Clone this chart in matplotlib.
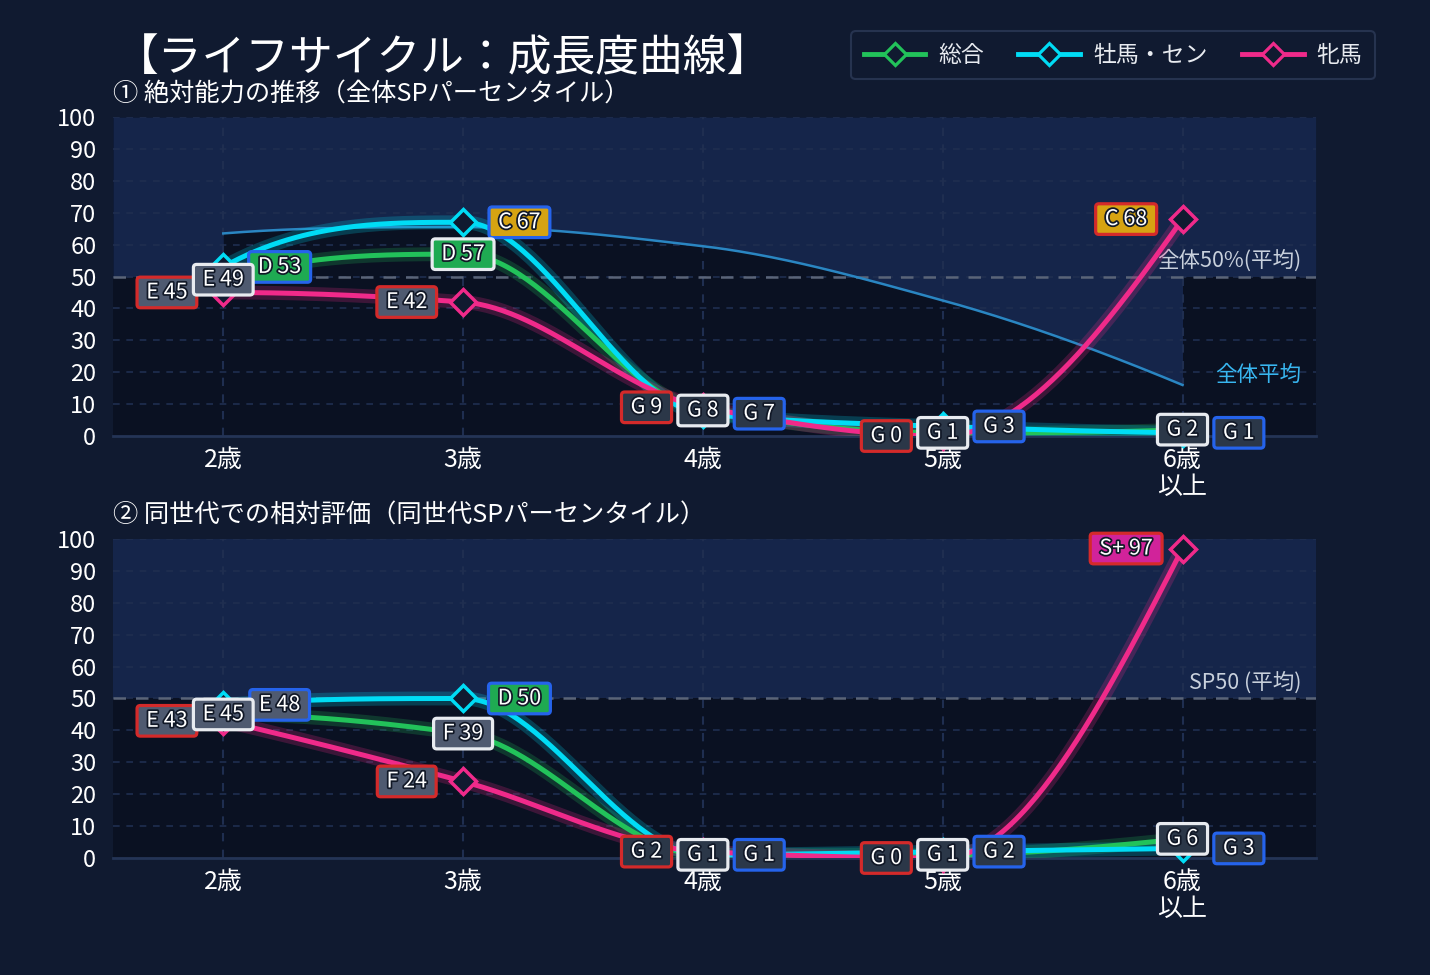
import numpy as np
import matplotlib
matplotlib.use("Agg")
import matplotlib.pyplot as plt
import matplotlib.patheffects as pe
from matplotlib.lines import Line2D

plt.rcParams['font.family'] = ['Noto Sans CJK JP', 'DejaVu Sans']

ages = ['2歳', '3歳', '4歳', '5歳', '6歳\n以上']
series_names = ['総合', '牡馬・セン', '牝馬']

# ① 絶対能力 (全体SPパーセンタイル)
abs_total = [49, 57, 8, 1, 2]
abs_male = [53, 67, 7, 3, 1]
abs_female = [45, 42, 9, 0, 68]
abs_overall_avg = [63.5, 65.5, 59.5, 42.5, 16]

# ② 同世代での相対評価
rel_total = [45, 39, 1, 1, 6]
rel_male = [48, 50, 1, 2, 3]
rel_female = [43, 24, 2, 0, 97]

BG = '#101a30'
LIGHT = '#15254a'
DARK = '#0a1122'
GRID = '#1f2e50'
GREEN = '#22c25a'
CYAN = '#00dcf5'
PINK = '#f02a8a'
series_colors = [GREEN, CYAN, PINK]
box_edges = ['#e8ebf0', '#2563eb', '#d42a2a']
label_dx = [0.0, 0.235, -0.235]

grade_cuts = [95, 90, 80, 70, 60, 50, 40, 20]
grade_names = ['S+', 'S', 'A', 'B', 'C', 'D', 'E', 'F']
grade_fill = {'S+': '#d1239a', 'S': '#d1239a', 'A': '#e0562a', 'B': '#e08a1e',
              'C': '#d6a312', 'D': '#1faa52', 'E': '#4f5a70', 'F': '#4f5a70', 'G': '#2b3748'}


def grade(v):
    for cut, name in zip(grade_cuts, grade_names):
        if v >= cut:
            return name
    return 'G'


def end_slope(d0, d1):
    m = (3 * d0 - d1) / 2
    if np.sign(m) != np.sign(d0):
        return 0.0
    if np.sign(d0) != np.sign(d1) and abs(m) > abs(3 * d0):
        return 3 * d0
    return m


def smooth(y, n=60):
    # monotone cubic (PCHIP) through the points
    y = np.asarray(y, dtype=float)
    d = np.diff(y)
    m = np.zeros_like(y)
    for k in range(1, len(y) - 1):
        if d[k - 1] * d[k] > 0:
            m[k] = 2 / (1 / d[k - 1] + 1 / d[k])
    m[0] = end_slope(d[0], d[1])
    m[-1] = end_slope(d[-1], d[-2])
    xs, ys = [], []
    for k in range(len(y) - 1):
        t = np.linspace(0, 1, n, endpoint=(k == len(y) - 2))
        h00 = 2 * t**3 - 3 * t**2 + 1
        h10 = t**3 - 2 * t**2 + t
        h01 = -2 * t**3 + 3 * t**2
        h11 = t**3 - t**2
        xs.append(k + t)
        ys.append(h00 * y[k] + h10 * m[k] + h01 * y[k + 1] + h11 * m[k + 1])
    return np.concatenate(xs), np.concatenate(ys)


fig = plt.figure(figsize=(14.3, 9.75), dpi=100, facecolor=BG)
ax1 = fig.add_axes([0.079, 0.5528, 0.841, 0.3272])
ax2 = fig.add_axes([0.079, 0.12, 0.841, 0.3272])
x = np.arange(len(ages))
XL = (-0.46, 4.555)


def setup(ax, avg_label):
    ax.set_facecolor(DARK)
    ax.set_xlim(*XL)
    ax.set_ylim(0, 100)
    ax.set_yticks(range(0, 101, 10))
    ax.set_xticks(x)
    ax.set_xticklabels(ages, fontsize=18, color='white', linespacing=1.05)
    ax.tick_params(axis='y', length=0, colors='white', labelsize=17, pad=12)
    ax.tick_params(axis='x', length=0, colors='white', pad=8)
    for s in ['top', 'right', 'left']:
        ax.spines[s].set_visible(False)
    ax.spines['bottom'].set_color('#243456')
    ax.spines['bottom'].set_linewidth(2)
    for v in range(10, 101, 10):
        ax.axhline(v, color=GRID, lw=1.2, dashes=(4, 4), zorder=1)
    for xi in x:
        ax.axvline(xi, color=GRID, lw=1.5, dashes=(4, 4), zorder=1)
    ax.axhline(50, color='#5a6478', lw=1.8, dashes=(5, 4), zorder=2)
    ax.text(4.495, 51.5, avg_label, ha='right', va='bottom', fontsize=15.5, color='#c8d0dc', zorder=3)


def draw_series(ax, data):
    for i, vals in enumerate(data):
        c = series_colors[i]
        sx, sy = smooth(vals)
        ax.plot(sx, sy, color=c, lw=10, alpha=0.22, zorder=4, solid_capstyle='round')
        ax.plot(sx, sy, color=c, lw=3.6, zorder=5, solid_capstyle='round')
        ax.plot(x, vals, ls='none', marker='D', ms=13.5, mfc=BG, mec=c, mew=2.5, zorder=6, clip_on=False)
    for i in [2, 1, 0]:
        for xi, v in zip(x, data[i]):
            g = grade(v)
            ax.text(xi + label_dx[i], v, f' {g} {v} ', ha='center', va='center', fontsize=15.5,
                    color='white', zorder=10 + (3 - i), clip_on=False,
                    path_effects=[pe.withStroke(linewidth=2.5, foreground='#111827')],
                    bbox=dict(boxstyle='round,pad=0.2,rounding_size=0.15', fc=grade_fill[g],
                              ec=box_edges[i], lw=2.3))


# top panel
setup(ax1, '全体50%(平均)')
ax_x, ax_y = smooth(abs_overall_avg)
bx = np.concatenate([[XL[0], 0], ax_x, [4, XL[1]]])
by = np.concatenate([[50, 50], ax_y, [50, 50]])
ax1.fill_between(bx, by, 100, color=LIGHT, lw=0, zorder=0)
ax1.plot(ax_x, ax_y, color='#2a86c2', lw=1.8, zorder=3)
ax1.text(4.495, 19, '全体平均', ha='right', va='center', fontsize=15.5, color='#38b6f0', zorder=3)
draw_series(ax1, [abs_total, abs_male, abs_female])

# bottom panel
setup(ax2, 'SP50 (平均)')
ax2.fill_between(XL, 50, 100, color=LIGHT, lw=0, zorder=0)
draw_series(ax2, [rel_total, rel_male, rel_female])

fig.text(0.0805, 0.94, '【ライフサイクル：成長度曲線】', fontsize=31.5, color='white', va='center')
fig.text(0.079, 0.903, '① 絶対能力の推移（全体SPパーセンタイル）', fontsize=18.2, color='white', va='center')
fig.text(0.079, 0.471, '② 同世代での相対評価（同世代SPパーセンタイル）', fontsize=18.2, color='white', va='center')

handles = [Line2D([], [], color=c, lw=3.5, marker='D', ms=11.5, mfc=BG, mec=c, mew=2.3)
           for c in series_colors]
leg = fig.legend(handles, series_names, loc='upper right', bbox_to_anchor=(0.9615, 0.968),
                 borderaxespad=0, ncol=3, fontsize=16.5, frameon=True, handlelength=2.7,
                 columnspacing=1.5, handletextpad=0.56, borderpad=0.55, fancybox=True)
leg.get_frame().set_facecolor(BG)
leg.get_frame().set_edgecolor('#2c3a58')
leg.get_frame().set_linewidth(1.5)
for t in leg.get_texts():
    t.set_color('#e8ebf0')

fig.savefig('out.png', dpi=100, facecolor=BG)
